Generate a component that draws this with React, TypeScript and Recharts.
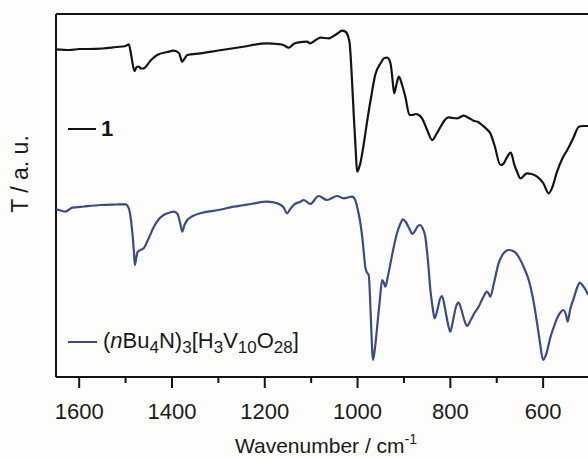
import React from 'react';
import { LineChart, Line, XAxis, YAxis, ReferenceLine } from 'recharts';

// wavenumbers (cm-1) and transmittance (a.u.)
const wnCompound1 = [
  1650, 1620, 1600, 1580, 1550, 1520, 1500, 1493, 1488, 1481, 1476, 1472, 1466, 1461, 1445, 1432,
  1410, 1396, 1385, 1378, 1372, 1367, 1339, 1300, 1250, 1195, 1173, 1160, 1148, 1138, 1127, 1109,
  1102, 1090, 1080, 1062, 1045, 1033, 1026, 1020, 1017, 1012, 1008, 1004, 1001, 997, 994, 987,
  980, 970, 962, 950, 942, 936, 929, 925, 921, 916, 911, 904, 897, 888, 882, 875,
  868, 861, 850, 839, 830, 821, 812, 804, 795, 785, 771, 760, 750, 740, 732, 722,
  714, 705, 692, 686, 681, 675, 670, 666, 663, 656, 649, 640, 635, 625, 613, 600,
  588, 580, 570, 558, 548, 535, 523, 515, 503,
];
const tCompound1 = [
  327.7, 327, 328, 328, 328.5, 330, 331, 332.7, 322, 306, 310, 310.3, 308.5, 308.7, 317, 322,
  325, 326.3, 324, 315.3, 319, 322, 323.7, 326.5, 330, 333.7, 333, 332, 329.3, 333, 334.7, 335.3,
  333.7, 337, 339.3, 338.7, 343, 346.3, 345.3, 340, 333.7, 297, 260.3, 227, 205.3, 209, 213.7, 232,
  253.7, 282, 302, 314, 319, 319.3, 313.7, 299, 283.7, 293, 300.3, 292, 280.3, 262, 262, 263,
  262, 258.7, 247, 237, 243, 250.3, 257, 259.7, 259, 258.7, 261.3, 259, 256.3, 255, 252, 248,
  243.7, 232, 212, 213, 217, 222, 224.3, 220, 213.7, 205, 198.7, 202, 203.7, 203, 200.3, 194,
  183.7, 190, 205.3, 219, 227, 239, 250.3, 251, 251,
];

const wnDecavanadate = [
  1650, 1640, 1630, 1615, 1590, 1554, 1520, 1500, 1493, 1489, 1486, 1482, 1480, 1477, 1474, 1468,
  1461, 1450, 1439, 1428, 1418, 1405, 1396, 1388, 1385, 1380, 1378, 1373, 1367, 1355, 1339, 1300,
  1267, 1230, 1195, 1173, 1160, 1152, 1145, 1138, 1123, 1116, 1102, 1084, 1066, 1044, 1030, 1012,
  1005, 1001, 995, 990, 986, 983, 979, 976, 972, 969, 967, 963, 957, 952, 947, 944,
  940, 935, 929, 922, 915, 908, 902, 896, 889, 882, 875, 870, 865, 860, 854, 848,
  843, 838, 834, 828, 823, 818, 812, 806, 800, 794, 788, 782, 776, 770, 764, 756,
  748, 739, 730, 721, 717, 714, 706, 696, 688, 680, 674, 665, 657, 649, 640, 631,
  622, 613, 607, 600, 594, 584, 577, 570, 562, 556, 550, 547, 542, 534, 527, 521,
  514, 508, 503,
];
const tDecavanadate = [
  167.7, 166.5, 165.3, 169.3, 170.5, 172, 172.5, 172.7, 168.7, 159, 147, 125, 112, 119, 125.3, 127,
  128.7, 139, 150.3, 158, 162, 164.5, 165.3, 163, 158.7, 149, 145.3, 152, 157, 161, 163.7, 167,
  170.3, 173, 175.3, 173.7, 170, 163.7, 168, 172, 175.3, 177, 173, 181, 177, 181, 178.7, 180.3,
  177, 170.3, 157, 140.3, 122, 108.7, 104, 102, 67, 32, 17, 27, 53.7, 77, 97, 95,
  90.3, 100, 113.7, 130, 143.7, 153, 157.7, 155, 149, 143, 147, 151, 152, 149, 140.3, 115,
  87, 69, 58.7, 67, 77, 81, 70, 55, 45.3, 57, 70, 74.3, 67, 57, 51, 57,
  64, 70.3, 79, 85.3, 83, 80.3, 94, 113.7, 122, 126, 127, 126, 123, 117, 108, 97,
  79, 53.7, 35, 17, 22, 40.3, 50, 58.7, 65, 67, 61, 55.3, 67, 78.7, 89, 94.3,
  91, 87, 82,
];

const majorTicks = [1600, 1400, 1200, 1000, 800, 600];
const minorTicks = [1500, 1300, 1100, 900, 700];
const xDomain = [430, 1650];
const yDomain = [0, 363];

const compound1 = wnCompound1.map((wn, i) => ({ wn, t: tCompound1[i] }));
const decavanadate = wnDecavanadate.map((wn, i) => ({ wn, t: tDecavanadate[i] }));

const FONT = '"Liberation Sans", Arial, sans-serif';
const BLACK = '#141414';
const BLUE = '#3b4a8c';

function WnTick({ x, y, payload }: any) {
  const major = majorTicks.includes(payload.value);
  return (
    <g>
      <line x1={x} x2={x} y1={y} y2={y + (major ? 11 : 6)} stroke={BLACK} strokeWidth={2} />
      {major && (
        <text x={x} y={y + 42} textAnchor="middle" fontSize={22} fontFamily={FONT} fill="#1a1a1a">
          {payload.value}
        </text>
      )}
    </g>
  );
}

const sub: React.CSSProperties = { fontSize: 17, position: 'relative', top: 5 };

export default function App() {
  return (
    <div
      style={{
        position: 'absolute', left: 0, top: 0, width: 588, height: 459,
        overflow: 'hidden', background: '#fdfdfb', fontFamily: FONT,
      }}
    >
      <LineChart width={640} height={459} margin={{ top: 14, right: 18, left: 56, bottom: 0 }}>
        <XAxis
          dataKey="wn"
          type="number"
          domain={xDomain}
          reversed
          allowDataOverflow
          ticks={[...majorTicks, ...minorTicks].sort((a, b) => b - a)}
          interval={0}
          tick={<WnTick />}
          tickLine={false}
          tickSize={0}
          tickMargin={0}
          height={82}
          axisLine={{ stroke: BLACK, strokeWidth: 2 }}
        />
        <YAxis type="number" domain={yDomain} allowDataOverflow hide width={0} />
        <ReferenceLine y={363} stroke={BLACK} strokeWidth={2} />
        <ReferenceLine x={1650} stroke={BLACK} strokeWidth={2} />
        <Line data={compound1} dataKey="t" type="monotone" stroke={BLACK} strokeWidth={2.2} dot={false} isAnimationActive={false} />
        <Line data={decavanadate} dataKey="t" type="monotone" stroke={BLUE} strokeWidth={2.2} dot={false} isAnimationActive={false} />
      </LineChart>

      {/* legend: compound 1 */}
      <div style={{ position: 'absolute', left: 68, top: 128, width: 28, height: 2, background: BLACK }} />
      <div style={{ position: 'absolute', left: 101, top: 117, fontSize: 22, lineHeight: '24px', fontWeight: 'bold', color: BLACK }}>1</div>

      {/* legend: decavanadate */}
      <div style={{ position: 'absolute', left: 68, top: 341, width: 29, height: 2, background: BLUE }} />
      <div style={{ position: 'absolute', left: 103, top: 329, fontSize: 22, lineHeight: '24px', color: '#1a1a1a', whiteSpace: 'nowrap' }}>
        (<i>n</i>Bu<span style={sub}>4</span>N)<span style={sub}>3</span>[H<span style={sub}>3</span>V<span style={sub}>10</span>O<span style={sub}>28</span>]
      </div>

      {/* axis titles */}
      <div style={{ position: 'absolute', left: 126, width: 400, top: 434, fontSize: 21, lineHeight: '24px', textAlign: 'center', color: '#1a1a1a', whiteSpace: 'nowrap' }}>
        Wavenumber / cm<span style={{ fontSize: 14, position: 'relative', top: -9 }}>-1</span>
      </div>
      <div
        style={{
          position: 'absolute', left: 20 - 60, top: 174 - 12, width: 120, height: 24,
          fontSize: 23, lineHeight: '24px', textAlign: 'center', color: '#1a1a1a',
          transform: 'rotate(-90deg)', whiteSpace: 'nowrap',
        }}
      >
        T / a. u.
      </div>
    </div>
  );
}
